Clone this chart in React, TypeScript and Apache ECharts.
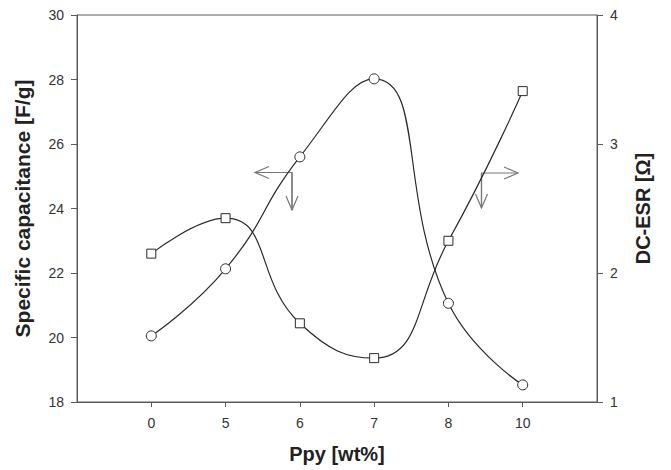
import React, { useEffect, useRef } from "react";
import * as echarts from "echarts";

const categories = ["0", "5", "6", "7", "8", "10"];
const capacitance = [20.05, 22.13, 25.6, 28.02, 21.06, 18.53];
const esr = [2.15, 2.425, 1.61, 1.34, 2.25, 3.41];
const leftTicks = [18, 20, 22, 24, 26, 28, 30];
const rightTicks = [1, 2, 3, 4];

const FONT = "Liberation Sans, Arial, sans-serif";
const AXIS = "#5a5a5a";
const LINE = "#2a2a2a";

function arrow(points: number[][], head: "left" | "right" | "down", hx: number, hy: number) {
  const els: any[] = [
    { type: "polyline", shape: { points }, style: { stroke: "#777", lineWidth: 1.2, fill: null } },
  ];
  let hp: number[][] = [];
  if (head === "left") hp = [[hx + 14, hy - 6], [hx, hy], [hx + 14, hy + 6]];
  if (head === "right") hp = [[hx - 14, hy - 6], [hx, hy], [hx - 14, hy + 6]];
  if (head === "down") hp = [[hx - 6, hy - 14], [hx, hy], [hx + 6, hy - 14]];
  els.push({ type: "polyline", shape: { points: hp }, style: { stroke: "#777", lineWidth: 1.2, fill: null } });
  return els;
}

export default function App() {
  const ref = useRef<HTMLDivElement>(null);
  useEffect(() => {
    if (!ref.current) return;
    const chart = echarts.init(ref.current, undefined, { renderer: "svg" });
    const idx = categories.map((_, i) => i);
    const titleStyle = { fontFamily: FONT, fontWeight: "bold", fontSize: 20, color: "#222" };
    const labelStyle = { fontFamily: FONT, fontSize: 14, color: "#333" };
    chart.setOption({
      animation: false,
      backgroundColor: "#ffffff",
      grid: { left: 77, right: 74, top: 15, bottom: 68, show: true, borderColor: AXIS, borderWidth: 1 },
      xAxis: {
        type: "value",
        min: -1,
        max: 6,
        interval: 1,
        name: "Ppy [wt%]",
        nameLocation: "middle",
        nameGap: 42,
        nameTextStyle: titleStyle,
        axisLine: { show: true, onZero: false, lineStyle: { color: AXIS, width: 1 } },
        axisTick: { show: true, customValues: idx, length: 5, lineStyle: { color: AXIS } },
        axisLabel: {
          customValues: idx,
          formatter: (v: number) => categories[Math.round(v)] ?? "",
          ...labelStyle,
          margin: 14,
        },
        splitLine: { show: false },
      },
      yAxis: [
        {
          type: "value",
          min: 18,
          max: 30,
          interval: 2,
          position: "left",
          name: "Specific capacitance [F/g]",
          nameLocation: "middle",
          nameGap: 44,
          nameTextStyle: { ...titleStyle, fontSize: 21 },
          axisLine: { show: true, onZero: false, lineStyle: { color: AXIS, width: 1 } },
          axisTick: { show: true, length: 6, lineStyle: { color: AXIS } },
          axisLabel: { customValues: leftTicks, ...labelStyle, margin: 13 },
          splitLine: { show: false },
        },
        {
          type: "value",
          min: 1,
          max: 4,
          interval: 1,
          position: "right",
          name: "DC-ESR [Ω]",
          nameLocation: "middle",
          nameGap: 36,
          nameRotate: 90,
          nameTextStyle: titleStyle,
          axisLine: { show: true, onZero: false, lineStyle: { color: AXIS, width: 1 } },
          axisTick: { show: true, length: 6, lineStyle: { color: AXIS } },
          axisLabel: { customValues: rightTicks, ...labelStyle, margin: 13 },
          splitLine: { show: false },
        },
      ],
      series: [
        {
          name: "Specific capacitance",
          type: "line",
          yAxisIndex: 0,
          data: capacitance.map((v, i) => [i, v]),
          smooth: 0.5,
          symbol: "circle",
          symbolSize: 10,
          lineStyle: { color: LINE, width: 1.2 },
          itemStyle: { color: "#ffffff", borderColor: LINE, borderWidth: 1 },
          z: 3,
        },
        {
          name: "DC-ESR",
          type: "line",
          yAxisIndex: 1,
          data: esr.map((v, i) => [i, v]),
          smooth: 0.5,
          symbol: "rect",
          symbolSize: 9,
          lineStyle: { color: LINE, width: 1.2 },
          itemStyle: { color: "#ffffff", borderColor: LINE, borderWidth: 1 },
          z: 3,
        },
      ],
      graphic: [
        ...arrow([[255, 172.5], [292, 172.5], [292, 210]], "left", 255, 172.5),
        ...arrow([[292, 172.5], [292, 210]], "down", 292, 210),
        ...arrow([[481.5, 208], [481.5, 173], [518, 173]], "right", 518, 173),
        ...arrow([[481.5, 173], [481.5, 208]], "down", 481.5, 208),
      ],
    });
    return () => chart.dispose();
  }, []);
  return (
    <div
      ref={ref}
      style={{ position: "fixed", left: 0, top: 0, width: 671, height: 470, background: "#fff" }}
    />
  );
}
